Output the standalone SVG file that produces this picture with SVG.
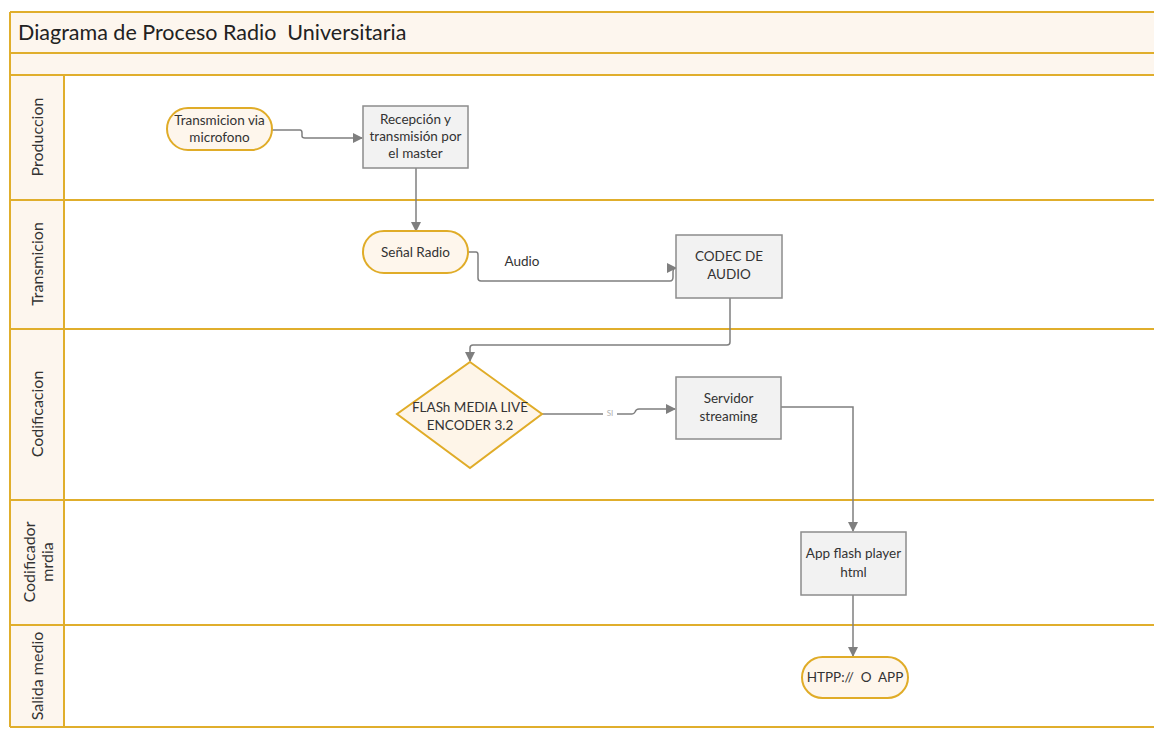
<svg xmlns="http://www.w3.org/2000/svg" width="1154" height="730" viewBox="0 0 1154 730">
  <defs>
    <marker id="arrow" viewBox="0 0 10 10" refX="9" refY="5" markerWidth="10" markerHeight="10" markerUnits="userSpaceOnUse" orient="auto">
      <path d="M0,0 L10,5 L0,10 Z" fill="#7f7f7f"/>
    </marker>
  </defs>
  <style>
    .band { fill: #fdf6ee; }
    .lane { stroke: #e0ae2c; stroke-width: 2; fill: none; }
    .lbl { font-family: Lato, "Liberation Sans", sans-serif; font-size: 16px; fill: #333; text-anchor: middle; }
    .term { fill: #fef6ec; stroke: #e0ac28; stroke-width: 2; }
    .proc { fill: #f2f2f2; stroke: #8c8c8c; stroke-width: 1.5; }
    .dec { fill: #fef5e8; stroke: #e0ac28; stroke-width: 2; }
    .txt { font-family: Lato, "Liberation Sans", sans-serif; font-size: 13.5px; fill: #333; text-anchor: middle; }
    .conn { stroke: #7f7f7f; stroke-width: 1.5; fill: none; }
  </style>

  <rect width="1154" height="730" fill="#ffffff"/>

  <!-- header bands and lane label column -->
  <g id="pool">
    <rect class="band" x="10" y="12" width="1144" height="63"/>
    <rect class="band" x="10" y="75" width="54" height="652"/>
    <line class="lane" x1="10" y1="12" x2="1154" y2="12"/>
    <line class="lane" x1="10" y1="53" x2="1154" y2="53"/>
    <line class="lane" x1="10" y1="75" x2="1154" y2="75"/>
    <line class="lane" x1="10" y1="200" x2="1154" y2="200"/>
    <line class="lane" x1="10" y1="329" x2="1154" y2="329"/>
    <line class="lane" x1="10" y1="500" x2="1154" y2="500"/>
    <line class="lane" x1="10" y1="625" x2="1154" y2="625"/>
    <line class="lane" x1="10" y1="727" x2="1154" y2="727"/>
    <line class="lane" x1="10" y1="12" x2="10" y2="727"/>
    <line class="lane" x1="64" y1="75" x2="64" y2="727"/>
    <text x="18" y="40" font-family="Lato, 'Liberation Sans', sans-serif" font-size="21.5" fill="#222" xml:space="preserve">Diagrama de Proceso Radio  Universitaria</text>
  </g>

  <g id="lane-labels">
    <text class="lbl" transform="translate(43,137) rotate(-90)">Produccion</text>
    <text class="lbl" transform="translate(43,264) rotate(-90)">Transmicion</text>
    <text class="lbl" transform="translate(43,414) rotate(-90)">Codificacion</text>
    <text class="lbl" transform="translate(35,562) rotate(-90)">Codificador</text>
    <text class="lbl" transform="translate(53,562) rotate(-90)">mrdia</text>
    <text class="lbl" transform="translate(43,676) rotate(-90)">Salida medio</text>
  </g>

  <!-- connectors -->
  <g id="connectors">
    <path class="conn" d="M272,130 H300 Q302,130 302,133 V136 Q302,138 305,138 H362" marker-end="url(#arrow)"/>
    <path class="conn" d="M416,168 V231" marker-end="url(#arrow)"/>
    <path class="conn" d="M468,252 H476 Q478,252 478,255 V278 Q478,281 481,281 H670 Q673,281 673,277 V272 Q673,268 676,268" marker-end="url(#arrow)"/>
    <text x="522" y="266" class="txt">Audio</text>
    <path class="conn" d="M730,298 V342 Q730,345 727,345 H473 Q470,345 470,348 V361" marker-end="url(#arrow)"/>
    <path class="conn" d="M542,414 H632 Q634,414 635,412 Q636,409 639,409 H675" marker-end="url(#arrow)"/>
    <rect x="603" y="409" width="14" height="9" fill="#ffffff"/>
    <text x="610" y="416" font-family="Lato, 'Liberation Sans', sans-serif" font-size="8" fill="#b0b0b0" text-anchor="middle">SI</text>
    <path class="conn" d="M781,407 H853 V531" marker-end="url(#arrow)"/>
    <path class="conn" d="M853,595 V656" marker-end="url(#arrow)"/>
  </g>

  <!-- nodes -->
  <g id="n-microfono">
    <rect class="term" x="167" y="108" width="105" height="42" rx="21"/>
    <text class="txt" x="219.5" y="125">Transmicion via</text>
    <text class="txt" x="219.5" y="142">microfono</text>
  </g>
  <g id="n-recepcion">
    <rect class="proc" x="363" y="106" width="105" height="62"/>
    <text class="txt" x="415.5" y="124">Recepción y</text>
    <text class="txt" x="415.5" y="141">transmisión por</text>
    <text class="txt" x="415.5" y="158">el master</text>
  </g>
  <g id="n-senal">
    <rect class="term" x="363" y="231" width="105" height="42" rx="21"/>
    <text class="txt" x="415.5" y="257">Señal Radio</text>
  </g>
  <g id="n-codec">
    <rect class="proc" x="676" y="235" width="106" height="63"/>
    <text class="txt" x="729" y="261">CODEC DE</text>
    <text class="txt" x="729" y="279">AUDIO</text>
  </g>
  <g id="n-encoder">
    <polygon class="dec" points="470,362 542,414 470,468 397,414"/>
    <text class="txt" x="470" y="412">FLASh MEDIA LIVE</text>
    <text class="txt" x="470" y="430">ENCODER 3.2</text>
  </g>
  <g id="n-servidor">
    <rect class="proc" x="676" y="377" width="105" height="62"/>
    <text class="txt" x="728.5" y="403">Servidor</text>
    <text class="txt" x="728.5" y="421">streaming</text>
  </g>
  <g id="n-app">
    <rect class="proc" x="801" y="532" width="105" height="63"/>
    <text class="txt" x="853.5" y="558">App flash player</text>
    <text class="txt" x="853.5" y="577">html</text>
  </g>
  <g id="n-http">
    <rect class="term" x="802" y="657" width="106" height="41" rx="20.5"/>
    <text class="txt" x="855" y="682" xml:space="preserve">HTPP://  O  APP</text>
  </g>
</svg>
